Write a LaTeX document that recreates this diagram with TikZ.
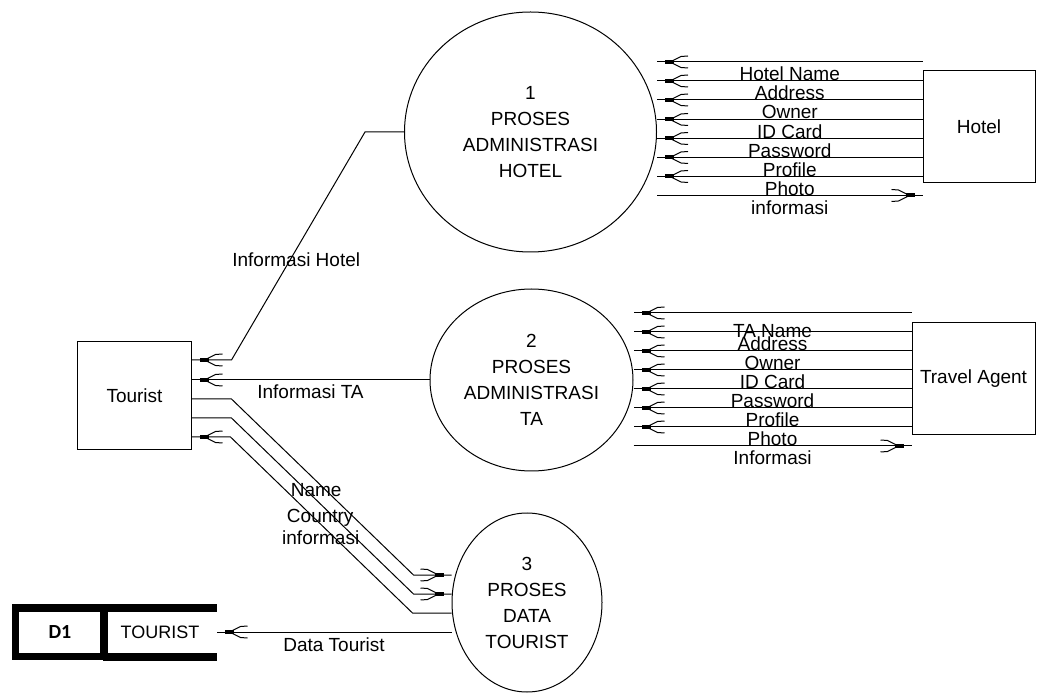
\documentclass[tikz,border=0pt]{standalone}
\usepackage{fontspec}
\setmainfont{Liberation Sans}
\newfontfamily\dfont{Carlito}
\usetikzlibrary{positioning,shapes.geometric}

\pgfdeclarearrow{
  name = Fork,
  setup code = {
    \pgfarrowssettipend{0pt}
    \pgfarrowssetlineend{0pt}
    \pgfarrowssetvisualbackend{-31pt}
    \pgfarrowssetbackend{-31pt}
    \pgfarrowshullpoint{0pt}{0pt}
    \pgfarrowshullpoint{-31pt}{7pt}
    \pgfarrowshullpoint{-31pt}{-7pt}
  },
  drawing code = {
    \pgfpathrectangle{\pgfpoint{-17pt}{-2pt}}{\pgfpoint{9pt}{4pt}}
    \pgfusepathqfill
    \pgfpathmoveto{\pgfpoint{-15pt}{1pt}}
    \pgfpathlineto{\pgfpoint{-24pt}{5.5pt}}
    \pgfpathlineto{\pgfpoint{-31pt}{6pt}}
    \pgfpathmoveto{\pgfpoint{-15pt}{-1pt}}
    \pgfpathlineto{\pgfpoint{-24pt}{-5.5pt}}
    \pgfpathlineto{\pgfpoint{-31pt}{-6pt}}
    \pgfusepathqstroke
  }
}

\begin{document}
\begin{tikzpicture}[>=Fork,on grid,line width=1pt,
    font=\fontsize{19pt}{26pt}\selectfont,
    ent/.style={draw,rectangle,inner sep=2pt},
    proc/.style={draw,ellipse,align=center,inner sep=0pt},
    flow/.style={anchor=base,midway,yshift=-19pt,inner sep=0pt},
    note/.style={inner sep=0pt}]
   \useasboundingbox (-134.5pt,-297pt) rectangle (904.5pt,396pt);
   \node[ent,minimum width=113pt,minimum height=108pt] (tourist) {Tourist};
   \node[proc,minimum width=252pt,minimum height=240pt] (p1) [above right=264pt and 396pt of tourist] {1\\PROSES\\ADMINISTRASI\\HOTEL};
   \node[proc,minimum width=203pt,minimum height=182pt] (p2) [above right=16pt and 397pt of tourist] {2\\PROSES\\ADMINISTRASI\\TA};
   \node[proc,minimum width=150pt,minimum height=179pt] (p3) [below right=206.5pt and 392.5pt of tourist] {3\\PROSES\\DATA\\TOURIST};
   \node[ent,minimum width=112pt,minimum height=112pt] (hotel) [above right=5pt and 448.5pt of p1] {Hotel};
   \node[ent,minimum width=123pt,minimum height=112pt] (ta) [above right=1pt and 442pt of p2] {Travel Agent};
   \node[minimum width=112pt,minimum height=48pt,inner sep=0pt,font=\fontsize{18pt}{20pt}\selectfont] (store) [below right=236pt and 25.5pt of tourist] {TOURIST};
   \node[draw,line width=7.5pt,minimum width=88.5pt,minimum height=48.5pt,inner sep=0pt,font=\dfont\bfseries\fontsize{20pt}{24pt}\selectfont] (d1) [left=100pt of store] {D1};
   \draw[line width=8pt] (store.north west) -- (store.north east)
        (store.south west) -- (store.south east);
   % hotel data flows
   \path[->]
        ([yshift=65pt]hotel.west) edge node[flow] {Hotel Name} ([yshift=65pt]hotel.west -| p1.east)
        ([yshift=46pt]hotel.west) edge node[flow] {Address} ([yshift=46pt]hotel.west -| p1.east)
        ([yshift=27pt]hotel.west) edge node[flow] {Owner} ([yshift=27pt]hotel.west -| p1.east)
        ([yshift=7.5pt]hotel.west) edge node[flow] {ID Card} ([yshift=7.5pt]hotel.west -| p1.east)
        ([yshift=-11.5pt]hotel.west) edge node[flow] {Password} ([yshift=-11.5pt]hotel.west -| p1.east)
        ([yshift=-30.5pt]hotel.west) edge node[flow] {Profile} ([yshift=-30.5pt]hotel.west -| p1.east)
        ([yshift=-49.5pt]hotel.west) edge node[flow] {Photo} ([yshift=-49.5pt]hotel.west -| p1.east)
        ([yshift=-68.5pt]hotel.west -| p1.east) edge node[flow] {informasi} ([yshift=-68.5pt]hotel.west)
        ;
   % travel agent data flows
   \path[->]
        ([yshift=66pt]ta.west) edge node[flow,yshift=-6pt] {TA Name} ([yshift=66pt]ta.west -| p2.east)
        ([yshift=47pt]ta.west) edge node[flow] {Address} ([yshift=47pt]ta.west -| p2.east)
        ([yshift=28pt]ta.west) edge node[flow] {Owner} ([yshift=28pt]ta.west -| p2.east)
        ([yshift=9pt]ta.west) edge node[flow] {ID Card} ([yshift=9pt]ta.west -| p2.east)
        ([yshift=-10pt]ta.west) edge node[flow] {Password} ([yshift=-10pt]ta.west -| p2.east)
        ([yshift=-29pt]ta.west) edge node[flow] {Profile} ([yshift=-29pt]ta.west -| p2.east)
        ([yshift=-48pt]ta.west) edge node[flow] {Photo} ([yshift=-48pt]ta.west -| p2.east)
        ([yshift=-67pt]ta.west -| p2.east) edge node[flow] {Informasi} ([yshift=-67pt]ta.west)
        (p2.west) edge node[flow] {Informasi TA} (p2.west -| tourist.east)
        (store.east -| p3.west) edge node[flow] {Data Tourist} (store.east)
        ;
   % tourist flows
   \draw[->] (p1.west) -- ++(-39pt,0) -- node[note,pos=0.56,xshift=6pt] {Informasi Hotel} ([xshift=40pt,yshift=36pt]tourist.east) -- ([yshift=36pt]tourist.east);
   \draw[->] ([yshift=-3pt]tourist.east) -- ++(40pt,0) -- node[note,pos=0.52,xshift=-10pt] {Name} ++(182pt,-176pt) -- ([yshift=27.5pt]p3.west);
   \draw[->] ([yshift=-22pt]tourist.east) -- ++(40pt,0) -- node[note,pos=0.57,xshift=-15pt] {Country} ++(182pt,-176pt) -- ([yshift=8.5pt]p3.west);
   \draw[->] ([yshift=-10.5pt]p3.west) -- ++(-39pt,0) -- node[note,pos=0.43,xshift=-13.5pt] {informasi} ++(-182pt,176pt) -- ([yshift=-41pt]tourist.east);
\end{tikzpicture}
\end{document}
